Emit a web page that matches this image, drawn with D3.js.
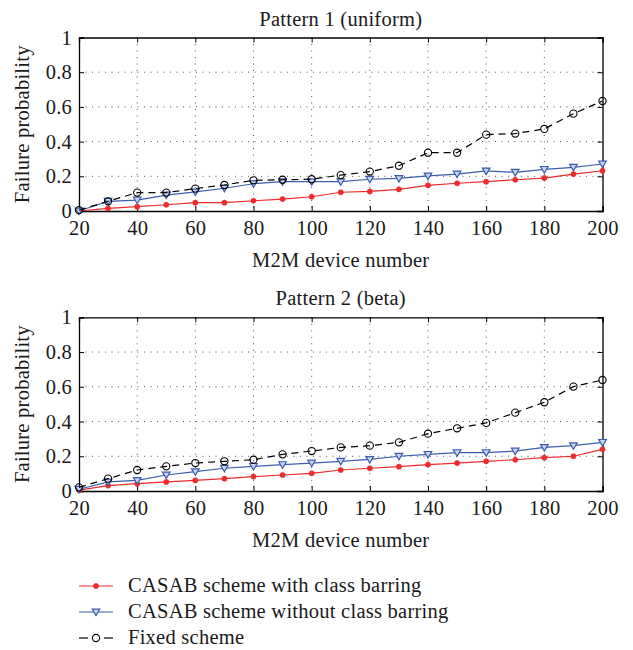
<!DOCTYPE html>
<html><head><meta charset="utf-8">
<script src="https://cdn.jsdelivr.net/npm/d3@7"></script>
<style>body{margin:0;background:#fff}svg{display:block}</style>
</head><body><svg id="c" width="633" height="650"></svg>
<script>
const deviceNumbers = [20,30,40,50,60,70,80,90,100,110,120,130,140,150,160,170,180,190,200];
const p1WithBarring = [0.0,0.015,0.025,0.036,0.048,0.048,0.059,0.069,0.082,0.108,0.113,0.125,0.148,0.16,0.169,0.18,0.19,0.213,0.232];
const p1WithoutBarring = [0.0,0.056,0.063,0.092,0.11,0.131,0.157,0.169,0.169,0.169,0.183,0.188,0.202,0.213,0.231,0.223,0.24,0.252,0.271];
const p1Fixed = [0.005,0.056,0.106,0.106,0.129,0.15,0.177,0.18,0.183,0.207,0.227,0.261,0.336,0.336,0.44,0.446,0.473,0.561,0.634];
const p2WithBarring = [0.005,0.031,0.042,0.052,0.061,0.071,0.083,0.092,0.102,0.121,0.131,0.14,0.152,0.161,0.171,0.18,0.192,0.2,0.24];
const p2WithoutBarring = [0.01,0.052,0.061,0.092,0.111,0.131,0.142,0.152,0.161,0.171,0.182,0.2,0.211,0.221,0.221,0.23,0.251,0.261,0.28];
const p2Fixed = [0.021,0.071,0.121,0.142,0.161,0.171,0.18,0.211,0.23,0.251,0.261,0.28,0.33,0.361,0.392,0.451,0.511,0.601,0.639];
const xTicks = [20,40,60,80,100,120,140,160,180,200];
const yTicks = [0,0.2,0.4,0.6,0.8,1];
const titles = ["Pattern 1 (uniform)","Pattern 2 (beta)"];
const seriesNames = ["CASAB scheme with class barring","CASAB scheme without class barring","Fixed scheme"];
const xLabel = "M2M device number";
const yLabel = "Failure probability";

const FONT = "'Liberation Serif', 'Times New Roman', serif";
const FS = 20.5, LS = 0.25;
const RED = "#ef2b2d", BLUE = "#3a5dae", BLACK = "#000";
const svg = d3.select("#c");

const panels = [
  {top:37.5, bottom:211, title:titles[0], data:[p1WithBarring,p1WithoutBarring,p1Fixed]},
  {top:317.3, bottom:491, title:titles[1], data:[p2WithBarring,p2WithoutBarring,p2Fixed]}
];
const left = 79, right = 602.5;

const styles = [
  {color:RED, dash:null, marker:"dot"},
  {color:BLUE, dash:null, marker:"tri"},
  {color:BLACK, dash:"7,5", marker:"circ"}
];

function styleText(t){
  return t.attr("font-family",FONT).attr("font-size",FS).attr("letter-spacing",LS).attr("fill","#1a1a1a");
}

function drawMarker(g, type, x, y, color){
  if(type==="dot"){
    g.append("circle").attr("cx",x).attr("cy",y).attr("r",2.6).attr("fill",color).attr("stroke",color).attr("stroke-width",0.6);
  } else if(type==="tri"){
    const s=3.8;
    g.append("path").attr("d",`M${x-s},${y-s*0.75}L${x+s},${y-s*0.75}L${x},${y+s*0.95}Z`)
      .attr("fill","#c9d3ee").attr("stroke",color).attr("stroke-width",1.2);
  } else {
    g.append("circle").attr("cx",x).attr("cy",y).attr("r",3.6).attr("fill","none").attr("stroke",color).attr("stroke-width",1.1);
  }
}

panels.forEach(p=>{
  const x = d3.scaleLinear().domain([20,200]).range([left,right]);
  const y = d3.scaleLinear().domain([0,1]).range([p.bottom,p.top]);
  const g = svg.append("g");
  // grid
  g.append("g").selectAll("line").data(xTicks.slice(1,-1)).join("line")
    .attr("x1",d=>x(d)).attr("x2",d=>x(d)).attr("y1",p.top).attr("y2",p.bottom)
    .attr("stroke","#555").attr("stroke-width",1).attr("stroke-dasharray","1,5.5");
  g.append("g").selectAll("line").data(yTicks.slice(1,-1)).join("line")
    .attr("y1",d=>y(d)).attr("y2",d=>y(d)).attr("x1",left).attr("x2",right)
    .attr("stroke","#555").attr("stroke-width",1).attr("stroke-dasharray","1,5.5");
  // axes
  const xa = g.append("g").attr("transform",`translate(0,${p.bottom})`)
    .call(d3.axisBottom(x).tickValues(xTicks).tickSize(-5).tickPadding(9).tickFormat(d3.format("d")));
  const xt = g.append("g").attr("transform",`translate(0,${p.top})`)
    .call(d3.axisTop(x).tickValues(xTicks).tickSize(-5).tickFormat(""));
  const ya = g.append("g").attr("transform",`translate(${left},0)`)
    .call(d3.axisLeft(y).tickValues(yTicks).tickSize(-5).tickPadding(7).tickFormat(d=>d===0?"0":d===1?"1":d3.format(".1f")(d)));
  const yr = g.append("g").attr("transform",`translate(${right},0)`)
    .call(d3.axisRight(y).tickValues(yTicks).tickSize(-5).tickFormat(""));
  [xa,xt,ya,yr].forEach(a=>{
    a.select(".domain").attr("stroke","#000").attr("stroke-width",1.3);
    a.selectAll(".tick line").attr("stroke","#000").attr("stroke-width",1);
    styleText(a.selectAll(".tick text"));
  });
  // title
  styleText(g.append("text").attr("x",(left+right)/2).attr("y",p.top-12).attr("text-anchor","middle")).text(p.title);
  // x label
  styleText(g.append("text").attr("x",(left+right)/2).attr("y",p.bottom+56).attr("text-anchor","middle")).text(xLabel);
  // y label
  styleText(g.append("text").attr("transform",`translate(29,${(p.top+p.bottom)/2}) rotate(-90)`).attr("text-anchor","middle")).text(yLabel);
  // series
  const line = d3.line().x((d,i)=>x(deviceNumbers[i])).y(d=>y(d));
  [0,1,2].forEach(si=>{
    const st = styles[si];
    g.append("path").datum(p.data[si]).attr("d",line).attr("fill","none")
      .attr("stroke",st.color).attr("stroke-width",1.2).attr("stroke-dasharray",st.dash);
    const mg = g.append("g");
    p.data[si].forEach((v,i)=>drawMarker(mg, st.marker, x(deviceNumbers[i]), y(v), st.color));
  });
});

// legend
const lg = svg.append("g");
const rowsY = [586, 612, 638];
seriesNames.forEach((name,i)=>{
  const st = styles[i], yy = rowsY[i];
  if(st.dash){
    lg.append("line").attr("x1",79).attr("x2",88).attr("y1",yy).attr("y2",yy).attr("stroke",st.color).attr("stroke-width",1.2);
    lg.append("line").attr("x1",104).attr("x2",113).attr("y1",yy).attr("y2",yy).attr("stroke",st.color).attr("stroke-width",1.2);
  } else {
    lg.append("line").attr("x1",79).attr("x2",113).attr("y1",yy).attr("y2",yy).attr("stroke",st.color).attr("stroke-width",1.2);
  }
  drawMarker(lg, st.marker, 96, yy, st.color);
  styleText(lg.append("text").attr("x",128).attr("y",yy+6)).text(name);
});
</script></body></html>
